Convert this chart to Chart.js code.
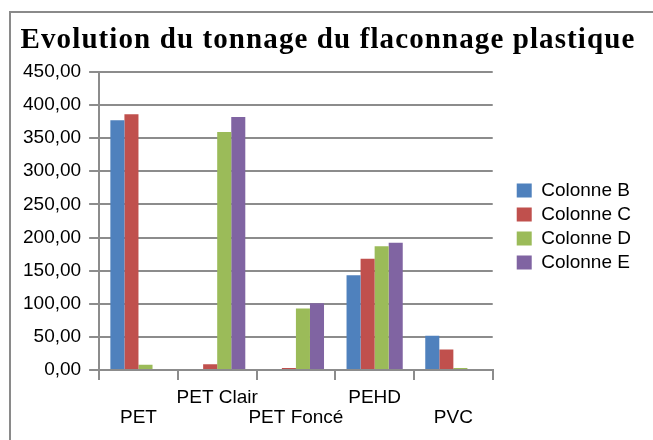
<!DOCTYPE html>
<html>
<head>
<meta charset="utf-8">
<script src="https://cdn.jsdelivr.net/npm/chart.js@4"></script>
<style>
    body { margin: 0; background: #fff; }
    #wrap { position: relative; width: 653px; height: 440px; }
    #frame { position: absolute; left: 9px; top: 11px; width: 700px; height: 500px;
             border-top: 2px solid #8a8a8a; border-left: 2px solid #8a8a8a; }
    canvas { position: absolute; left: 0; top: 0; }
</style>
</head>
<body>
<div id="wrap">
    <div id="frame"></div>
    <canvas id="MyChart1" width="653" height="440"></canvas>
</div>
<script>
var categories = [['', 'PET'], ['PET Clair', ''], ['', 'PET Foncé'], ['PEHD', ''], ['', 'PVC']];
var colonneB = [377, 0, 0, 143, 52];
var colonneC = [386, 9, 3, 168, 31];
var colonneD = [8, 359, 93, 187, 3];
var colonneE = [0, 382, 101, 192, 0];
var yMin = 0, yMax = 450, yStep = 50;

var gridColor = '#8c8c8c';
var legendGap = 19;

// spaced-out title like the original, and some room between plot and legend
var tweaks = {
    id: 'tweaks',
    beforeLayout: function (chart) {
        var lg = chart.legend;
        if (lg && !lg._wrapped) {
            var fit = lg.fit, draw = lg.draw;
            lg.fit = function () {
                fit.apply(this, arguments);
                this.width += legendGap;
            };
            lg.draw = function () {
                chart.ctx.save();
                chart.ctx.translate(legendGap, -3);
                draw.apply(this, arguments);
                chart.ctx.restore();
            };
            lg._wrapped = true;
        }
        var tb = chart.titleBlock;
        if (tb && !tb._wrapped) {
            var tdraw = tb.draw;
            tb.draw = function () {
                chart.ctx.save();
                chart.ctx.letterSpacing = '1.1px';
                tdraw.apply(this, arguments);
                chart.ctx.restore();
            };
            tb._wrapped = true;
        }
    }
};

var ctx = document.getElementById('MyChart1').getContext('2d');
var config = {
    type: 'bar',
    data: {
        labels: categories,
        datasets: [
            { label: 'Colonne B', backgroundColor: '#4F81BD', data: colonneB },
            { label: 'Colonne C', backgroundColor: '#C0504D', data: colonneC },
            { label: 'Colonne D', backgroundColor: '#9BBB59', data: colonneD },
            { label: 'Colonne E', backgroundColor: '#8064A2', data: colonneE }
        ]
    },
    options: {
        responsive: false,
        animation: false,
        categoryPercentage: 0.714,
        barPercentage: 1,
        layout: { padding: { top: 23, left: 15, right: 12, bottom: 4 } },
        plugins: {
            title: {
                display: true,
                text: 'Evolution du tonnage du flaconnage plastique',
                color: '#000',
                font: { family: 'Liberation Serif', size: 29, weight: 'bold' },
                padding: { top: 0, bottom: 14 }
            },
            legend: {
                position: 'right',
                labels: {
                    color: '#000',
                    boxWidth: 15,
                    boxHeight: 14,
                    padding: 5,
                    font: { family: 'Liberation Sans', size: 19 }
                }
            },
            tooltip: { enabled: false }
        },
        scales: {
            x: {
                border: { color: gridColor, width: 2 },
                grid: { drawOnChartArea: false, drawTicks: true, tickLength: 10, color: gridColor, lineWidth: 2 },
                ticks: { color: '#000', maxRotation: 0, autoSkip: false, padding: 8,
                         font: { family: 'Liberation Sans', size: 19, lineHeight: 1.05 } }
            },
            y: {
                min: yMin,
                max: yMax,
                border: { color: gridColor, width: 2 },
                grid: { color: gridColor, lineWidth: 2, tickLength: 10 },
                ticks: {
                    stepSize: yStep,
                    color: '#000',
                    padding: 8,
                    font: { family: 'Liberation Sans', size: 19 },
                    callback: function (v) { return v.toFixed(2).replace('.', ','); }
                }
            }
        }
    },
    plugins: [tweaks]
};
window.bar = new Chart(ctx, config);
</script>
</body>
</html>
